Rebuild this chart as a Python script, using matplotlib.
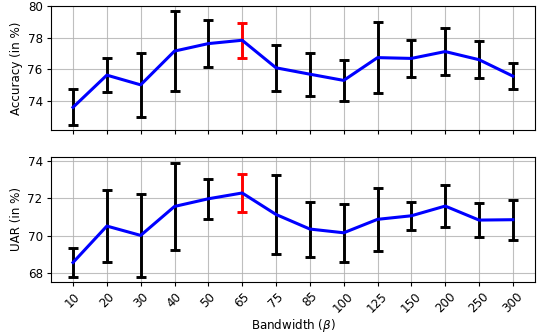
import matplotlib
matplotlib.use("Agg")
import matplotlib.pyplot as plt
import numpy as np

bandwidths = ["10", "20", "30", "40", "50", "65", "75", "85", "100", "125", "150", "200", "250", "300"]
acc_mean = [73.62, 75.64, 75.03, 77.15, 77.62, 77.83, 76.10, 75.70, 75.31, 76.74, 76.69, 77.12, 76.61, 75.58]
acc_err = [1.12, 1.05, 2.00, 2.50, 1.45, 1.10, 1.46, 1.35, 1.30, 2.25, 1.14, 1.50, 1.15, 0.83]
uar_mean = [68.57, 70.52, 70.02, 71.57, 71.98, 72.29, 71.14, 70.36, 70.16, 70.88, 71.07, 71.59, 70.84, 70.86]
uar_err = [0.75, 1.93, 2.20, 2.31, 1.06, 1.00, 2.10, 1.47, 1.56, 1.70, 0.74, 1.13, 0.93, 1.06]
best_idx = 5

fs = 8.6
fig, (ax1, ax2) = plt.subplots(2, 1, figsize=(5.37, 3.34), dpi=100, sharex=True)
fig.subplots_adjust(left=0.095, right=0.996, top=0.983, bottom=0.157, hspace=0.22)

x = np.arange(len(bandwidths))
colors = ["red" if i == best_idx else "black" for i in range(len(bandwidths))]

for ax, mean, err, ylab in [(ax1, acc_mean, acc_err, "Accuracy (in %)"),
                            (ax2, uar_mean, uar_err, "UAR (in %)")]:
    ax.grid(True, color="#b0b0b0", linewidth=0.8, alpha=0.8, zorder=0)
    ax.set_axisbelow(True)
    for i in range(len(x)):
        ax.errorbar(x[i], mean[i], yerr=err[i], fmt="none", ecolor=colors[i],
                    elinewidth=2.1, capsize=3.3, capthick=2.1, zorder=2)
    ax.plot(x, mean, color="blue", linewidth=2.2, zorder=3)
    ax.set_ylabel(ylab, fontsize=fs, labelpad=3)
    ax.tick_params(labelsize=fs, length=3, pad=3)

ax1.set_ylim(72.2, 80)
ax1.set_yticks([74, 76, 78, 80])
ax2.set_ylim(67.55, 74.2)
ax2.set_yticks([68, 70, 72, 74])
ax2.set_xticks(x)
ax2.set_xticklabels(bandwidths, rotation=45)
ax2.set_xlabel(r"Bandwidth ($\beta$)", fontsize=fs, labelpad=1)

fig.savefig("out.png", dpi=100)
